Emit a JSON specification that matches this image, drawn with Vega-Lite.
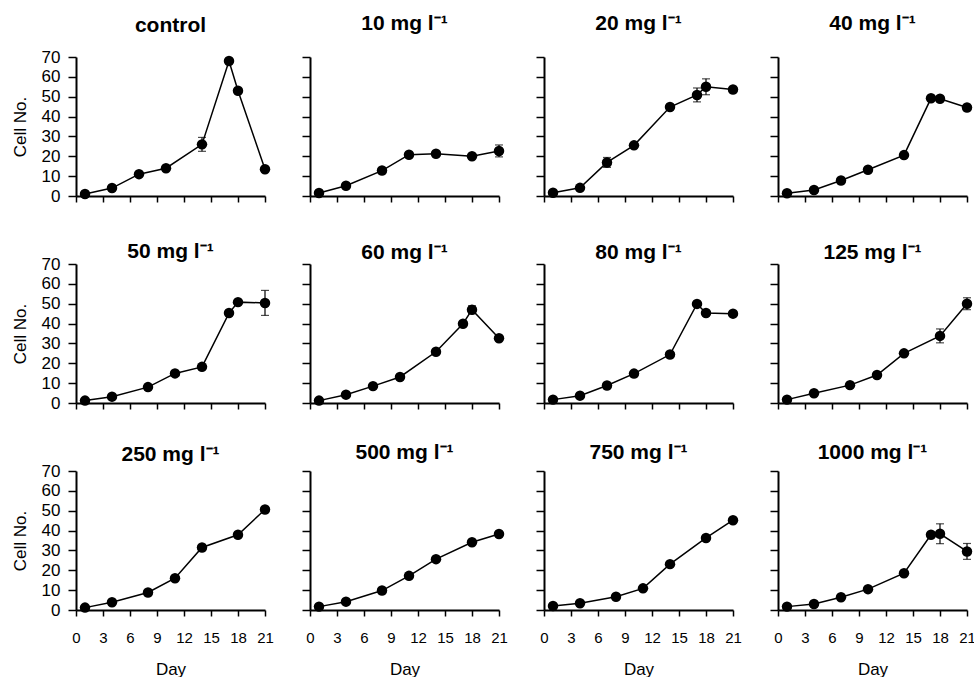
{
  "$schema": "https://vega.github.io/schema/vega-lite/v6.json",
  "background": "white",
  "padding": {"left": 11, "top": 13, "right": 5, "bottom": 0},
  "columns": 4,
  "spacing": {"row": 68, "column": 45},
  "bounds": "flush",
  "config": {
    "view": {"stroke": null},
    "font": "Liberation Sans",
    "title": {"font": "Liberation Sans", "fontSize": 21, "fontWeight": "bold", "color": "black", "anchor": "middle", "baseline": "alphabetic"},
    "axis": {"grid": false, "domainColor": "black", "tickColor": "black", "domainWidth": 2, "tickWidth": 1.5, "labelFont": "Liberation Sans", "labelColor": "black", "titleFont": "Liberation Sans", "titleFontSize": 17, "titleFontWeight": "normal", "titleColor": "black", "labelFlush": false, "labelOverlap": false},
    "axisX": {"tickSize": 6, "labelFontSize": 15, "labelPadding": 14, "titlePadding": 16},
    "axisY": {"tickSize": 8, "labelFontSize": 17, "labelPadding": 8, "titlePadding": 12}
  },
  "data": {"values": [
    {"c": "control", "day": 1, "cells": 1, "err": 0},
    {"c": "control", "day": 4, "cells": 4, "err": 0},
    {"c": "control", "day": 7, "cells": 11, "err": 0},
    {"c": "control", "day": 10, "cells": 14, "err": 0},
    {"c": "control", "day": 14, "cells": 26, "err": 3.5},
    {"c": "control", "day": 17, "cells": 68, "err": 0},
    {"c": "control", "day": 18, "cells": 53, "err": 0},
    {"c": "control", "day": 21, "cells": 13.5, "err": 0},
    {"c": "10", "day": 1, "cells": 1.5, "err": 0},
    {"c": "10", "day": 4, "cells": 5.2, "err": 0},
    {"c": "10", "day": 8, "cells": 12.8, "err": 0},
    {"c": "10", "day": 11, "cells": 20.8, "err": 0},
    {"c": "10", "day": 14, "cells": 21.3, "err": 0},
    {"c": "10", "day": 18, "cells": 20, "err": 0},
    {"c": "10", "day": 21, "cells": 22.7, "err": 3},
    {"c": "20", "day": 1, "cells": 1.6, "err": 0},
    {"c": "20", "day": 4, "cells": 4.1, "err": 0},
    {"c": "20", "day": 7, "cells": 16.9, "err": 2.5},
    {"c": "20", "day": 10, "cells": 25.5, "err": 0},
    {"c": "20", "day": 14, "cells": 44.8, "err": 0},
    {"c": "20", "day": 17, "cells": 50.9, "err": 3.5},
    {"c": "20", "day": 18, "cells": 55, "err": 4},
    {"c": "20", "day": 21, "cells": 53.6, "err": 0},
    {"c": "40", "day": 1, "cells": 1.4, "err": 0},
    {"c": "40", "day": 4, "cells": 3, "err": 0},
    {"c": "40", "day": 7, "cells": 7.8, "err": 0},
    {"c": "40", "day": 10, "cells": 13.2, "err": 0},
    {"c": "40", "day": 14, "cells": 20.6, "err": 0},
    {"c": "40", "day": 17, "cells": 49.2, "err": 0},
    {"c": "40", "day": 18, "cells": 49, "err": 0},
    {"c": "40", "day": 21, "cells": 44.6, "err": 0},
    {"c": "50", "day": 1, "cells": 1.2, "err": 0},
    {"c": "50", "day": 4, "cells": 3.2, "err": 0},
    {"c": "50", "day": 8, "cells": 8, "err": 0},
    {"c": "50", "day": 11, "cells": 14.9, "err": 0},
    {"c": "50", "day": 14, "cells": 18.2, "err": 0},
    {"c": "50", "day": 17, "cells": 45.3, "err": 0},
    {"c": "50", "day": 18, "cells": 50.8, "err": 0},
    {"c": "50", "day": 21, "cells": 50.4, "err": 6.3},
    {"c": "60", "day": 1, "cells": 1.2, "err": 0},
    {"c": "60", "day": 4, "cells": 4.2, "err": 0},
    {"c": "60", "day": 7, "cells": 8.5, "err": 0},
    {"c": "60", "day": 10, "cells": 13.1, "err": 0},
    {"c": "60", "day": 14, "cells": 25.8, "err": 0},
    {"c": "60", "day": 17, "cells": 39.9, "err": 0},
    {"c": "60", "day": 18, "cells": 47, "err": 2},
    {"c": "60", "day": 21, "cells": 32.6, "err": 0},
    {"c": "80", "day": 1, "cells": 1.7, "err": 0},
    {"c": "80", "day": 4, "cells": 3.7, "err": 0},
    {"c": "80", "day": 7, "cells": 8.8, "err": 0},
    {"c": "80", "day": 10, "cells": 14.8, "err": 0},
    {"c": "80", "day": 14, "cells": 24.4, "err": 0},
    {"c": "80", "day": 17, "cells": 49.9, "err": 0},
    {"c": "80", "day": 18, "cells": 45.3, "err": 0},
    {"c": "80", "day": 21, "cells": 45, "err": 0},
    {"c": "125", "day": 1, "cells": 1.7, "err": 0},
    {"c": "125", "day": 4, "cells": 4.9, "err": 0},
    {"c": "125", "day": 8, "cells": 9, "err": 0},
    {"c": "125", "day": 11, "cells": 14.1, "err": 0},
    {"c": "125", "day": 14, "cells": 25, "err": 0},
    {"c": "125", "day": 18, "cells": 33.8, "err": 3.5},
    {"c": "125", "day": 21, "cells": 50, "err": 3},
    {"c": "250", "day": 1, "cells": 1.2, "err": 0},
    {"c": "250", "day": 4, "cells": 3.9, "err": 0},
    {"c": "250", "day": 8, "cells": 8.8, "err": 0},
    {"c": "250", "day": 11, "cells": 16, "err": 0},
    {"c": "250", "day": 14, "cells": 31.5, "err": 0},
    {"c": "250", "day": 18, "cells": 37.9, "err": 0},
    {"c": "250", "day": 21, "cells": 50.6, "err": 0},
    {"c": "500", "day": 1, "cells": 1.7, "err": 0},
    {"c": "500", "day": 4, "cells": 4.2, "err": 0},
    {"c": "500", "day": 8, "cells": 9.8, "err": 0},
    {"c": "500", "day": 11, "cells": 17.2, "err": 0},
    {"c": "500", "day": 14, "cells": 25.6, "err": 0},
    {"c": "500", "day": 18, "cells": 34.1, "err": 0},
    {"c": "500", "day": 21, "cells": 38.3, "err": 0},
    {"c": "750", "day": 1, "cells": 2, "err": 0},
    {"c": "750", "day": 4, "cells": 3.4, "err": 0},
    {"c": "750", "day": 8, "cells": 6.7, "err": 0},
    {"c": "750", "day": 11, "cells": 10.9, "err": 0},
    {"c": "750", "day": 14, "cells": 23.1, "err": 0},
    {"c": "750", "day": 18, "cells": 36.3, "err": 0},
    {"c": "750", "day": 21, "cells": 45.2, "err": 0},
    {"c": "1000", "day": 1, "cells": 1.7, "err": 0},
    {"c": "1000", "day": 4, "cells": 3, "err": 0},
    {"c": "1000", "day": 7, "cells": 6.4, "err": 0},
    {"c": "1000", "day": 10, "cells": 10.5, "err": 0},
    {"c": "1000", "day": 14, "cells": 18.5, "err": 0},
    {"c": "1000", "day": 17, "cells": 37.9, "err": 0},
    {"c": "1000", "day": 18, "cells": 38.4, "err": 5},
    {"c": "1000", "day": 21, "cells": 29.5, "err": 4}
  ]},
  "concat": [
    {"title": {"text": "control", "offset": 12}, "width": 189, "height": 139,
     "transform": [{"filter": "datum.c == 'control'"}],
     "encoding": {
       "x": {"field": "day", "type": "quantitative", "scale": {"domain": [0, 21], "nice": false}, "axis": {"values": [0,3,6,9,12,15,18,21], "labels": false, "title": null}},
       "y": {"field": "cells", "type": "quantitative", "scale": {"domain": [0, 70], "nice": false}, "axis": {"values": [0,10,20,30,40,50,60,70], "title": "Cell No."}}},
     "layer": [
       {"mark": {"type": "line", "color": "black", "strokeWidth": 1.5}},
       {"transform": [{"filter": "datum.err > 0"}], "mark": {"type": "errorbar", "color": "black", "thickness": 1.2, "ticks": {"size": 8}}, "encoding": {"yError": {"field": "err"}}},
       {"mark": {"type": "circle", "size": 110, "color": "black", "opacity": 1}}]},
    {"title": {"text": "10 mg l⁻¹", "offset": 22}, "width": 189, "height": 139,
     "transform": [{"filter": "datum.c == '10'"}],
     "encoding": {
       "x": {"field": "day", "type": "quantitative", "scale": {"domain": [0, 21], "nice": false}, "axis": {"values": [0,3,6,9,12,15,18,21], "labels": false, "title": null}},
       "y": {"field": "cells", "type": "quantitative", "scale": {"domain": [0, 70], "nice": false}, "axis": {"values": [0,10,20,30,40,50,60,70], "labels": false, "title": null}}},
     "layer": [
       {"mark": {"type": "line", "color": "black", "strokeWidth": 1.5}},
       {"transform": [{"filter": "datum.err > 0"}], "mark": {"type": "errorbar", "color": "black", "thickness": 1.2, "ticks": {"size": 8}}, "encoding": {"yError": {"field": "err"}}},
       {"mark": {"type": "circle", "size": 110, "color": "black", "opacity": 1}}]},
    {"title": {"text": "20 mg l⁻¹", "offset": 22}, "width": 189, "height": 139,
     "transform": [{"filter": "datum.c == '20'"}],
     "encoding": {
       "x": {"field": "day", "type": "quantitative", "scale": {"domain": [0, 21], "nice": false}, "axis": {"values": [0,3,6,9,12,15,18,21], "labels": false, "title": null}},
       "y": {"field": "cells", "type": "quantitative", "scale": {"domain": [0, 70], "nice": false}, "axis": {"values": [0,10,20,30,40,50,60,70], "labels": false, "title": null}}},
     "layer": [
       {"mark": {"type": "line", "color": "black", "strokeWidth": 1.5}},
       {"transform": [{"filter": "datum.err > 0"}], "mark": {"type": "errorbar", "color": "black", "thickness": 1.2, "ticks": {"size": 8}}, "encoding": {"yError": {"field": "err"}}},
       {"mark": {"type": "circle", "size": 110, "color": "black", "opacity": 1}}]},
    {"title": {"text": "40 mg l⁻¹", "offset": 22}, "width": 189, "height": 139,
     "transform": [{"filter": "datum.c == '40'"}],
     "encoding": {
       "x": {"field": "day", "type": "quantitative", "scale": {"domain": [0, 21], "nice": false}, "axis": {"values": [0,3,6,9,12,15,18,21], "labels": false, "title": null}},
       "y": {"field": "cells", "type": "quantitative", "scale": {"domain": [0, 70], "nice": false}, "axis": {"values": [0,10,20,30,40,50,60,70], "labels": false, "title": null}}},
     "layer": [
       {"mark": {"type": "line", "color": "black", "strokeWidth": 1.5}},
       {"transform": [{"filter": "datum.err > 0"}], "mark": {"type": "errorbar", "color": "black", "thickness": 1.2, "ticks": {"size": 8}}, "encoding": {"yError": {"field": "err"}}},
       {"mark": {"type": "circle", "size": 110, "color": "black", "opacity": 1}}]},
    {"title": {"text": "50 mg l⁻¹", "offset": -7}, "width": 189, "height": 139,
     "transform": [{"filter": "datum.c == '50'"}],
     "encoding": {
       "x": {"field": "day", "type": "quantitative", "scale": {"domain": [0, 21], "nice": false}, "axis": {"values": [0,3,6,9,12,15,18,21], "labels": false, "title": null}},
       "y": {"field": "cells", "type": "quantitative", "scale": {"domain": [0, 70], "nice": false}, "axis": {"values": [0,10,20,30,40,50,60,70], "title": "Cell No."}}},
     "layer": [
       {"mark": {"type": "line", "color": "black", "strokeWidth": 1.5}},
       {"transform": [{"filter": "datum.err > 0"}], "mark": {"type": "errorbar", "color": "black", "thickness": 1.2, "ticks": {"size": 8}}, "encoding": {"yError": {"field": "err"}}},
       {"mark": {"type": "circle", "size": 110, "color": "black", "opacity": 1}}]},
    {"title": {"text": "60 mg l⁻¹", "offset": 0}, "width": 189, "height": 139,
     "transform": [{"filter": "datum.c == '60'"}],
     "encoding": {
       "x": {"field": "day", "type": "quantitative", "scale": {"domain": [0, 21], "nice": false}, "axis": {"values": [0,3,6,9,12,15,18,21], "labels": false, "title": null}},
       "y": {"field": "cells", "type": "quantitative", "scale": {"domain": [0, 70], "nice": false}, "axis": {"values": [0,10,20,30,40,50,60,70], "labels": false, "title": null}}},
     "layer": [
       {"mark": {"type": "line", "color": "black", "strokeWidth": 1.5}},
       {"transform": [{"filter": "datum.err > 0"}], "mark": {"type": "errorbar", "color": "black", "thickness": 1.2, "ticks": {"size": 8}}, "encoding": {"yError": {"field": "err"}}},
       {"mark": {"type": "circle", "size": 110, "color": "black", "opacity": 1}}]},
    {"title": {"text": "80 mg l⁻¹", "offset": 0}, "width": 189, "height": 139,
     "transform": [{"filter": "datum.c == '80'"}],
     "encoding": {
       "x": {"field": "day", "type": "quantitative", "scale": {"domain": [0, 21], "nice": false}, "axis": {"values": [0,3,6,9,12,15,18,21], "labels": false, "title": null}},
       "y": {"field": "cells", "type": "quantitative", "scale": {"domain": [0, 70], "nice": false}, "axis": {"values": [0,10,20,30,40,50,60,70], "labels": false, "title": null}}},
     "layer": [
       {"mark": {"type": "line", "color": "black", "strokeWidth": 1.5}},
       {"transform": [{"filter": "datum.err > 0"}], "mark": {"type": "errorbar", "color": "black", "thickness": 1.2, "ticks": {"size": 8}}, "encoding": {"yError": {"field": "err"}}},
       {"mark": {"type": "circle", "size": 110, "color": "black", "opacity": 1}}]},
    {"title": {"text": "125 mg l⁻¹", "offset": 0}, "width": 189, "height": 139,
     "transform": [{"filter": "datum.c == '125'"}],
     "encoding": {
       "x": {"field": "day", "type": "quantitative", "scale": {"domain": [0, 21], "nice": false}, "axis": {"values": [0,3,6,9,12,15,18,21], "labels": false, "title": null}},
       "y": {"field": "cells", "type": "quantitative", "scale": {"domain": [0, 70], "nice": false}, "axis": {"values": [0,10,20,30,40,50,60,70], "labels": false, "title": null}}},
     "layer": [
       {"mark": {"type": "line", "color": "black", "strokeWidth": 1.5}},
       {"transform": [{"filter": "datum.err > 0"}], "mark": {"type": "errorbar", "color": "black", "thickness": 1.2, "ticks": {"size": 8}}, "encoding": {"yError": {"field": "err"}}},
       {"mark": {"type": "circle", "size": 110, "color": "black", "opacity": 1}}]},
    {"title": {"text": "250 mg l⁻¹", "offset": -3}, "width": 189, "height": 139,
     "transform": [{"filter": "datum.c == '250'"}],
     "encoding": {
       "x": {"field": "day", "type": "quantitative", "scale": {"domain": [0, 21], "nice": false}, "axis": {"values": [0,3,6,9,12,15,18,21], "title": "Day"}},
       "y": {"field": "cells", "type": "quantitative", "scale": {"domain": [0, 70], "nice": false}, "axis": {"values": [0,10,20,30,40,50,60,70], "title": "Cell No."}}},
     "layer": [
       {"mark": {"type": "line", "color": "black", "strokeWidth": 1.5}},
       {"transform": [{"filter": "datum.err > 0"}], "mark": {"type": "errorbar", "color": "black", "thickness": 1.2, "ticks": {"size": 8}}, "encoding": {"yError": {"field": "err"}}},
       {"mark": {"type": "circle", "size": 110, "color": "black", "opacity": 1}}]},
    {"title": {"text": "500 mg l⁻¹", "offset": 7}, "width": 189, "height": 139,
     "transform": [{"filter": "datum.c == '500'"}],
     "encoding": {
       "x": {"field": "day", "type": "quantitative", "scale": {"domain": [0, 21], "nice": false}, "axis": {"values": [0,3,6,9,12,15,18,21], "title": "Day"}},
       "y": {"field": "cells", "type": "quantitative", "scale": {"domain": [0, 70], "nice": false}, "axis": {"values": [0,10,20,30,40,50,60,70], "labels": false, "title": null}}},
     "layer": [
       {"mark": {"type": "line", "color": "black", "strokeWidth": 1.5}},
       {"transform": [{"filter": "datum.err > 0"}], "mark": {"type": "errorbar", "color": "black", "thickness": 1.2, "ticks": {"size": 8}}, "encoding": {"yError": {"field": "err"}}},
       {"mark": {"type": "circle", "size": 110, "color": "black", "opacity": 1}}]},
    {"title": {"text": "750 mg l⁻¹", "offset": 7}, "width": 189, "height": 139,
     "transform": [{"filter": "datum.c == '750'"}],
     "encoding": {
       "x": {"field": "day", "type": "quantitative", "scale": {"domain": [0, 21], "nice": false}, "axis": {"values": [0,3,6,9,12,15,18,21], "title": "Day"}},
       "y": {"field": "cells", "type": "quantitative", "scale": {"domain": [0, 70], "nice": false}, "axis": {"values": [0,10,20,30,40,50,60,70], "labels": false, "title": null}}},
     "layer": [
       {"mark": {"type": "line", "color": "black", "strokeWidth": 1.5}},
       {"transform": [{"filter": "datum.err > 0"}], "mark": {"type": "errorbar", "color": "black", "thickness": 1.2, "ticks": {"size": 8}}, "encoding": {"yError": {"field": "err"}}},
       {"mark": {"type": "circle", "size": 110, "color": "black", "opacity": 1}}]},
    {"title": {"text": "1000 mg l⁻¹", "offset": 7}, "width": 189, "height": 139,
     "transform": [{"filter": "datum.c == '1000'"}],
     "encoding": {
       "x": {"field": "day", "type": "quantitative", "scale": {"domain": [0, 21], "nice": false}, "axis": {"values": [0,3,6,9,12,15,18,21], "title": "Day"}},
       "y": {"field": "cells", "type": "quantitative", "scale": {"domain": [0, 70], "nice": false}, "axis": {"values": [0,10,20,30,40,50,60,70], "labels": false, "title": null}}},
     "layer": [
       {"mark": {"type": "line", "color": "black", "strokeWidth": 1.5}},
       {"transform": [{"filter": "datum.err > 0"}], "mark": {"type": "errorbar", "color": "black", "thickness": 1.2, "ticks": {"size": 8}}, "encoding": {"yError": {"field": "err"}}},
       {"mark": {"type": "circle", "size": 110, "color": "black", "opacity": 1}}]}
  ]
}
